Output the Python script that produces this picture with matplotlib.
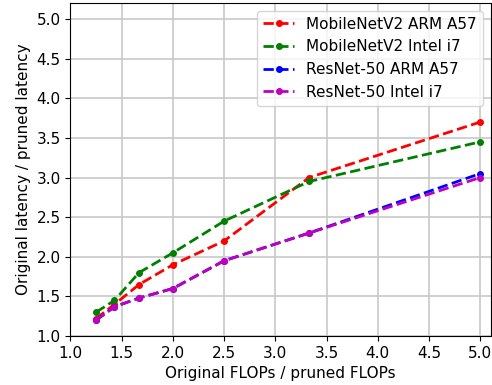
import matplotlib
matplotlib.use('Agg')
import matplotlib.pyplot as plt

flops_ratio = [1.25, 1.43, 1.67, 2.0, 2.5, 3.33, 5.0]

mbv2_arm = [1.22, 1.40, 1.65, 1.90, 2.20, 3.00, 3.70]
mbv2_intel = [1.30, 1.45, 1.80, 2.05, 2.45, 2.95, 3.45]
resnet_arm = [1.20, 1.37, 1.48, 1.60, 1.95, 2.30, 3.05]
resnet_intel = [1.20, 1.37, 1.48, 1.60, 1.95, 2.30, 3.00]

plt.rcParams['font.size'] = 11

fig = plt.figure(figsize=(4.92, 3.85), dpi=100)
ax = fig.add_subplot(111)
ax.plot(flops_ratio, mbv2_arm, 'r.--', lw=2, ms=8, label='MobileNetV2 ARM A57')
ax.plot(flops_ratio, mbv2_intel, 'g.--', lw=2, ms=8, label='MobileNetV2 Intel i7')
ax.plot(flops_ratio, resnet_arm, 'b.--', lw=2, ms=8, label='ResNet-50 ARM A57')
ax.plot(flops_ratio, resnet_intel, 'm.--', lw=2, ms=8, label='ResNet-50 Intel i7')
ax.set_xlim(1.0, 5.1)
ax.set_ylim(1.0, 5.2)
ax.set_xticks([1.0, 1.5, 2.0, 2.5, 3.0, 3.5, 4.0, 4.5, 5.0])
ax.set_yticks([1.0, 1.5, 2.0, 2.5, 3.0, 3.5, 4.0, 4.5, 5.0])
ax.set_xlabel('Original FLOPs / pruned FLOPs')
ax.set_ylabel('Original latency / pruned latency')
ax.grid(color='#c8c8c8', linestyle='-', lw=1.2)
ax.legend(loc='upper right')
fig.subplots_adjust(left=0.143, right=0.997, top=0.992, bottom=0.127)
fig.savefig('out.png')
